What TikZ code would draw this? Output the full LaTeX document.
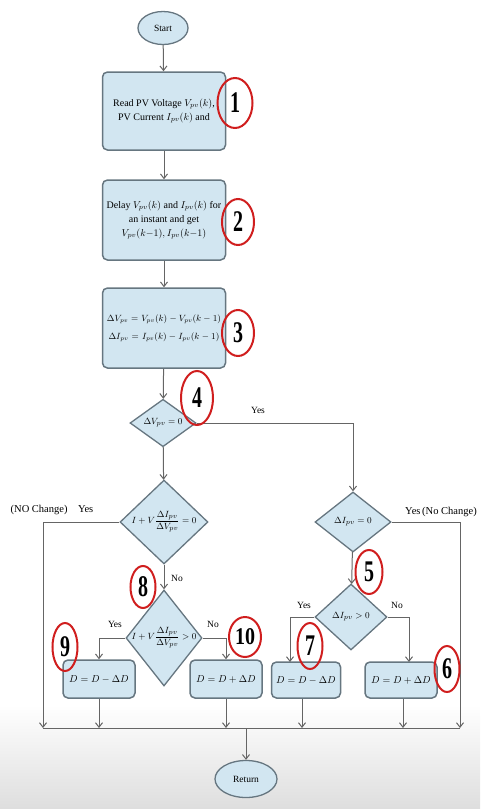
\documentclass[tikz,border=0pt]{standalone}
\usepackage{fontspec}
\setmainfont{Liberation Serif}
\usepackage{amsmath}
\usetikzlibrary{shapes.geometric,arrows.meta,calc}
\definecolor{boxfill}{HTML}{D2E6F1}
\definecolor{boxline}{HTML}{667680}
\definecolor{conn}{HTML}{656565}
\definecolor{mark}{HTML}{D01E1E}
\newcommand{\bignum}[1]{\scalebox{1}[1.5]{#1}}
\tikzset{
  proc/.style={draw=boxline, fill=boxfill, line width=1.5pt, rounded corners=5pt, align=center, font=\fontsize{10}{14}\selectfont, inner sep=2pt},
  term/.style={draw=boxline, fill=boxfill, line width=1.3pt, ellipse, inner sep=0pt, font=\fontsize{9.5}{10}\selectfont},
  dec/.style={draw=boxline, fill=boxfill, line width=1.3pt, diamond, inner sep=0pt, font=\fontsize{9.5}{10}\selectfont},
  arr/.style={draw=conn, line width=1pt, -{Straight Barb[length=4.5pt,width=7pt]}},
  ln/.style={draw=conn, line width=1pt},
  lbl/.style={font=\fontsize{9.5}{10}\selectfont, inner sep=1pt},
  num/.style={draw=mark, ellipse, line width=2pt, inner sep=0pt, font=\fontsize{20}{20}\selectfont\bfseries}
}
\begin{document}
\begin{tikzpicture}[x=1pt,y=-1pt]
\useasboundingbox (0,0) rectangle (480,809);
\shade[top color=white, bottom color=black!13] (0,705) rectangle (480,809);
% nodes
\node[term, minimum width=50pt, minimum height=33pt] (start) at (163,28) {Start};
\node[proc, minimum width=123pt, minimum height=78pt] (b1) at (164,111) {Read PV Voltage $V_{pv}(k)$,\\ PV Current $I_{pv}(k)$ and};
\node[proc, minimum width=123pt, minimum height=80pt] (b2) at (164,220) {Delay $V_{pv}(k)$ and $I_{pv}(k)$ for\\ an instant and get\\ $V_{pv}(k{-}1), I_{pv}(k{-}1)$};
\node[proc, minimum width=123pt, minimum height=80pt, text width=119pt, font=\fontsize{9.2}{12}\selectfont] (b3) at (164,328) {$\Delta V_{pv} = V_{pv}(k) - V_{pv}(k-1)$\\[6pt] $\Delta I_{pv} = I_{pv}(k) - I_{pv}(k-1)$};
\node[dec, minimum width=66pt, minimum height=46pt] (d4) at (163,423) {$\Delta V_{pv}=0$};
\node[dec, minimum width=88pt, minimum height=84pt, inner sep=-8pt] (dL) at (164,522) {$I+V\dfrac{\Delta I_{pv}}{\Delta V_{pv}}=0$};
\node[dec, minimum width=76pt, minimum height=60pt] (dR) at (353,522) {$\Delta I_{pv}=0$};
\node[dec, minimum width=76pt, minimum height=96pt, inner sep=-8pt] (d8) at (164,638) {$I+V\dfrac{\Delta I_{pv}}{\Delta V_{pv}}>0$};
\node[dec, minimum width=72pt, minimum height=66pt] (d5) at (351,617) {$\Delta I_{pv}>0$};
\node[proc, minimum width=72pt, minimum height=38pt] (b9) at (99,679) {$D=D-\Delta D$};
\node[proc, minimum width=72pt, minimum height=38pt] (b10) at (226,679) {$D=D+\Delta D$};
\node[proc, minimum width=69pt, minimum height=36pt] (b7) at (306,680) {$D=D-\Delta D$};
\node[proc, minimum width=72pt, minimum height=36pt] (b6) at (401,680) {$D=D+\Delta D$};
\node[term, minimum width=62pt, minimum height=37pt] (ret) at (246,779) {Return};
% coordinates
\coordinate (barL) at (43,728);
\coordinate (barR) at (460,728);
\coordinate (yR) at (460,522);
\coordinate (yL) at (43,522);
\coordinate (y4) at (353,423);
\coordinate (p7) at (290,662);
\coordinate (p6) at (409,662);
\coordinate (r0) at (246,728);
% connectors
\draw[arr] (start) -- (b1);
\draw[arr] (b1) -- (b2);
\draw[arr] (b2) -- (b3);
\draw[arr] (b3) -- (d4);
\draw[arr] (d4) -- (dL);
\draw[arr] (d4.east) -- (y4) -- (dR.north);
\draw[arr] (dL.west) -- (yL) -- (barL);
\draw[arr] (dL) -- (d8);
\draw[arr] (dR.east) -- (yR) -- (barR);
\draw[arr] (dR) -- (d5);
\draw[arr] (d8.west) -| (b9.north);
\draw[arr] (d8.east) -| (b10.north);
\draw[arr] (d5.west) -| (p7);
\draw[arr] (d5.east) -| (p6);
\draw[arr] (b9.south) -- (b9.south |- barL);
\draw[arr] (b10.south) -- (b10.south |- barL);
\draw[arr] ([xshift=-4pt]b7.south) -- ([xshift=-4pt]b7.south |- barL);
\draw[arr] ([xshift=2pt]b6.south) -- ([xshift=2pt]b6.south |- barL);
\draw[ln] (barL) -- (barR);
\draw[arr] (r0) -- (ret);
% labels
\node[lbl] (tY4) at (258,410) {Yes};
\node[lbl, font=\fontsize{10.5}{11}\selectfont] (tYL) at (52,510) {(NO Change)\quad Yes};
\node[lbl, font=\fontsize{10.5}{11}\selectfont] (tYR) at (441,512) {Yes\,(No Change)};
\node[lbl] (tNL) at (177,578) {No};
\node[lbl] (tY8) at (115,624) {Yes};
\node[lbl] (tN8) at (213,624) {No};
\node[lbl] (tY5) at (304,605) {Yes};
\node[lbl] (tN5) at (397,605) {No};
% red number marks
\node[num, minimum width=35pt, minimum height=50pt] (n1) at (235,103) {\bignum{1}};
\node[num, minimum width=32pt, minimum height=46pt] (n2) at (238,222) {\bignum{2}};
\node[num, minimum width=32pt, minimum height=46pt] (n3) at (238,333) {\bignum{3}};
\node[num, minimum width=32pt, minimum height=54pt] (n4) at (197,398) {\bignum{4}};
\node[num, minimum width=27pt, minimum height=44pt] (n5) at (369,572) {\bignum{5}};
\node[num, minimum width=25pt, minimum height=46pt] (n6) at (447,669) {\bignum{6}};
\node[num, minimum width=25pt, minimum height=46pt] (n7) at (310,646) {\bignum{7}};
\node[num, minimum width=25pt, minimum height=42pt] (n8) at (143,587) {\bignum{8}};
\node[num, minimum width=25pt, minimum height=48pt] (n9) at (65,647) {\bignum{9}};
\node[num, minimum width=32pt, minimum height=40pt] (n10) at (245,637) {\scalebox{1}[1.2]{10}};
\end{tikzpicture}
\end{document}
